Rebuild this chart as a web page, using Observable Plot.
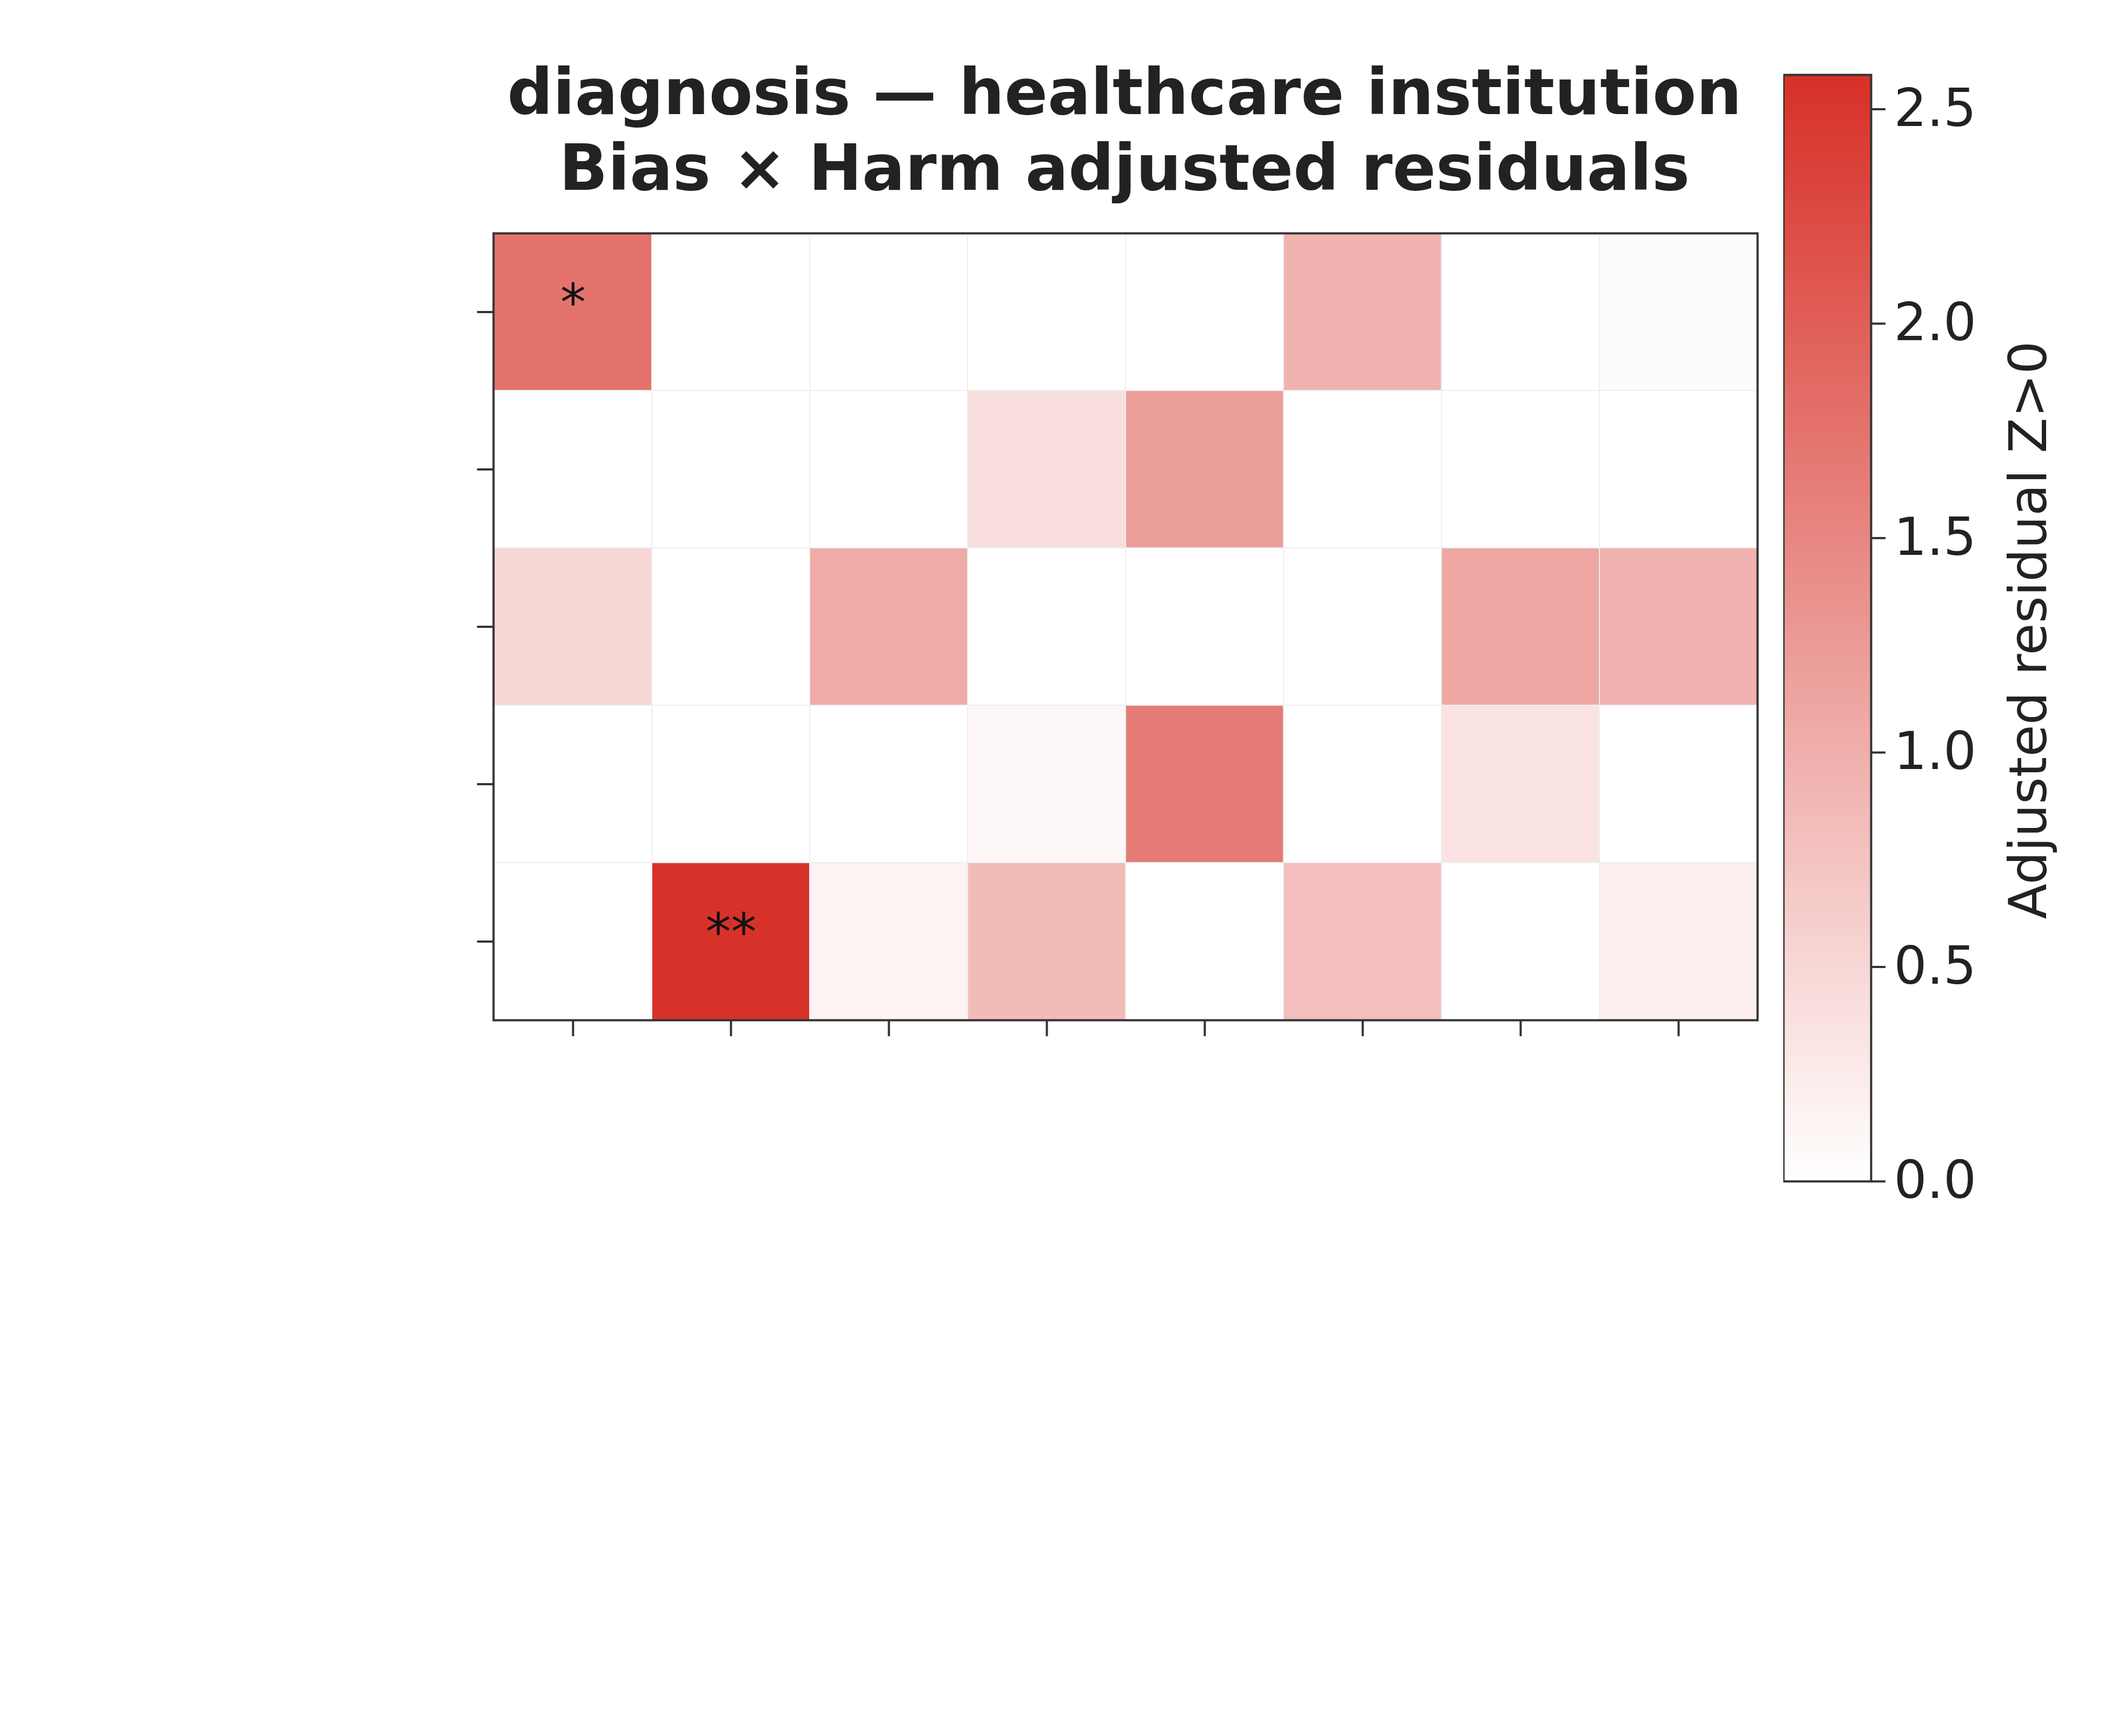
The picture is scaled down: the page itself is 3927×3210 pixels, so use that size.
<!DOCTYPE html>
<html><head><meta charset="utf-8">
<script src="https://cdn.jsdelivr.net/npm/d3@7"></script>
<script src="https://cdn.jsdelivr.net/npm/@observablehq/plot@0.6"></script>
<style>
body{margin:0;background:#fff;font-family:"DejaVu Sans",sans-serif;color:#222}
#wrap{position:relative;width:3927px;height:3210px}
.abs{position:absolute}
</style></head>
<body><div id="wrap">
<div class="abs" style="left:879px;width:2400px;top:100px;text-align:center;font-weight:bold;font-size:118px;line-height:140px">diagnosis — healthcare institution<br>Bias × Harm adjusted residuals</div>
<div id="main" class="abs" style="left:0;top:0"></div>
<div id="cbar" class="abs" style="left:3297px;top:88px"></div>
<div class="abs" style="left:3750px;top:1165px;transform:translate(-50%,-50%) rotate(-90deg);font-size:96px;white-space:nowrap">Adjusted residual Z&gt;0</div>
</div>
<script>
const biases = ["representation","measurement","algorithmic","evaluation","deployment"];
const harms = ["opportunity loss","economic loss","alienation","increased labor","service or benefit loss","loss of agency or control","diminished health and well-being","privacy violation"];
const zRepresentation = [1.75,0,0,0,0,0.95,0,0.05];
const zMeasurement    = [0,0,0,0.4,1.2,0,0,0];
const zAlgorithmic    = [0.5,0,1.05,0,0,0,1.1,0.95];
const zEvaluation     = [0,0,0,0.1,1.65,0,0.35,0];
const zDeployment     = [0,2.55,0.15,0.85,0,0.8,0,0.2];
const stars = [["representation","opportunity loss","*"],["deployment","economic loss","**"]];
const zMax = 2.58;

const rows = [zRepresentation,zMeasurement,zAlgorithmic,zEvaluation,zDeployment];
const cells = [];
rows.forEach((r,i) => r.forEach((v,j) => cells.push({bias:biases[i],harm:harms[j],z:v})));
const color = {type:"linear",domain:[0,zMax],range:["#ffffff","#d73027"]};

const main = Plot.plot({
  width:3927, height:3210,
  marginLeft:912, marginRight:678, marginTop:431, marginBottom:1324,
  style:{fontFamily:"DejaVu Sans",fontSize:"94px",color:"#222"},
  x:{domain:harms,label:null,padding:0,tickRotate:-45,tickSize:30,tickPadding:16},
  y:{domain:biases,label:null,padding:0,tickSize:30,tickPadding:16},
  color,
  marks:[
    Plot.cell(cells,{x:"harm",y:"bias",fill:"z",stroke:"#eeeeee",strokeWidth:2}),
    Plot.text(stars,{x:d=>d[1],y:d=>d[0],text:d=>d[2],fontSize:94,fill:"#111",dy:-15}),
    Plot.axisX({tickSize:30,tickRotate:-45,tickPadding:16,strokeWidth:4,stroke:"#333",text:null,label:null}),
    Plot.axisY({tickSize:30,strokeWidth:4,stroke:"#333",text:null,label:null}),
    Plot.frame({stroke:"#333",strokeWidth:4})
  ]
});
document.getElementById("main").append(main);

const steps = d3.range(0,zMax,0.005);
const cbar = Plot.plot({
  width:480, height:2146,
  marginLeft:0, marginRight:318, marginTop:50, marginBottom:50,
  style:{fontFamily:"DejaVu Sans",fontSize:"96px",color:"#222"},
  x:{domain:[0,1],axis:null},
  y:{domain:[0,zMax],label:null,axis:null},
  color,
  marks:[
    Plot.rect(steps,{x1:0,x2:1,y1:d=>d,y2:d=>Math.min(d+0.006,zMax),fill:d=>d}),
    Plot.axisY({anchor:"right",ticks:[0,0.5,1,1.5,2,2.5],tickFormat:d3.format(".1f"),label:null,tickSize:26,tickPadding:16,strokeWidth:4,stroke:"#333"}),
    Plot.frame({stroke:"#333",strokeWidth:4})
  ]
});
document.getElementById("cbar").append(cbar);
</script>
</body></html>
